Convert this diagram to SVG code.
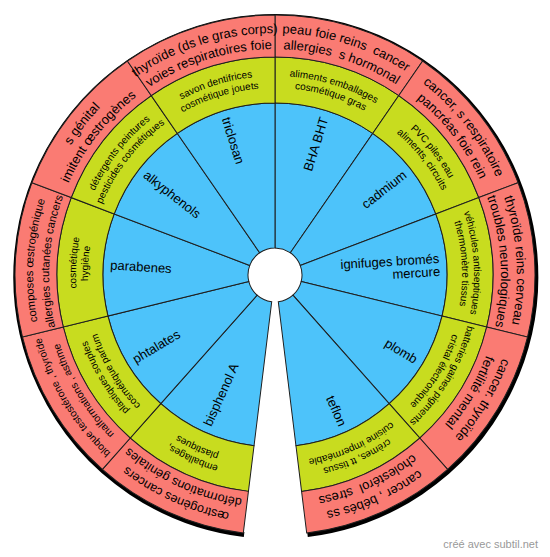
<svg xmlns="http://www.w3.org/2000/svg" width="550" height="557" viewBox="0 0 550 557">
<style>
.wb{fill:#4dc3fa;stroke:#1e1e1e;stroke-width:1}
.wg{fill:#c8dc1f;stroke:#1e1e1e;stroke-width:1}
.wr{fill:#fa7b73;stroke:#1e1e1e;stroke-width:1}
text{font-family:"Liberation Sans",Arial,sans-serif;fill:#000}
.lb{font-size:13px}
.lg{font-size:10px}
.lr{font-size:13px}
.credit{font-size:11px;fill:#999}
</style>
<defs>
<path id="wedgeBlue" class="wb" d="M275,248 L275,103 A172,172 0 0 1 372.67,133.42 L290.33,252.77 A27,27 0 0 0 275,248 Z"/>
<path id="wedgeGreen" class="wg" d="M275,103 L275,57 A218,218 0 0 1 398.79,95.55 L372.67,133.42 A172,172 0 0 0 275,103 Z"/>
<path id="wedgeRed" class="wr" d="M275,57 L275,15 A260,260 0 0 1 422.64,60.98 L398.79,95.55 A218,218 0 0 0 275,57 Z"/>
<path id="t242" d="M33,275 A242,242 0 0 1 517,275"/>
<path id="t226" d="M49,275 A226,226 0 0 1 501,275"/>
<path id="t199" d="M76,275 A199,199 0 0 1 474,275"/>
<path id="t187" d="M88,275 A187,187 0 0 1 462,275"/>
</defs>
<rect x="0" y="0" width="550" height="557" fill="#fff"/>
<path d="M243.31,533.06 A260,260 0 1 1 306.69,533.06" fill="none" stroke="#000" stroke-width="5" transform="translate(0.8,1.5)"/>

<g id="sector-bha-bht" transform="rotate(0 275 275)">
<use href="#wedgeBlue"/><use href="#wedgeGreen"/><use href="#wedgeRed"/>
<text class="lb" x="440" y="279.5" text-anchor="end" transform="rotate(-72.7 275 275)">BHA BHT</text>
<text class="lg" transform="rotate(17.3 275 275)"><textPath href="#t199" startOffset="50%" text-anchor="middle">aliments emballages</textPath></text>
<text class="lg" transform="rotate(17.3 275 275)"><textPath href="#t187" startOffset="50%" text-anchor="middle">cosmétique gras</textPath></text>
<text class="lr" xml:space="preserve" transform="rotate(17.3 275 275)"><textPath href="#t242" startOffset="50%" text-anchor="middle">peau foie reins  cancer</textPath></text>
<text class="lr" xml:space="preserve" transform="rotate(17.3 275 275)"><textPath href="#t226" startOffset="50%" text-anchor="middle">allergies  s hormonal</textPath></text>
</g>

<g id="sector-cadmium" transform="rotate(34.6 275 275)">
<use href="#wedgeBlue"/><use href="#wedgeGreen"/><use href="#wedgeRed"/>
<text class="lb" x="440" y="279.5" text-anchor="end" transform="rotate(-72.7 275 275)">cadmium</text>
<text class="lg" transform="rotate(17.3 275 275)"><textPath href="#t199" startOffset="50%" text-anchor="middle">PVC piles eau</textPath></text>
<text class="lg" transform="rotate(17.3 275 275)"><textPath href="#t187" startOffset="50%" text-anchor="middle">aliments, circuits</textPath></text>
<text class="lr" transform="rotate(17.3 275 275)"><textPath href="#t242" startOffset="50%" text-anchor="middle">cancer, s respiratoire</textPath></text>
<text class="lr" transform="rotate(17.3 275 275)"><textPath href="#t226" startOffset="50%" text-anchor="middle">pancréas foie rein</textPath></text>
</g>

<g id="sector-ignifuges" transform="rotate(69.2 275 275)">
<use href="#wedgeBlue"/><use href="#wedgeGreen"/><use href="#wedgeRed"/>
<text class="lb" text-anchor="end" transform="rotate(-72.7 275 275)"><tspan x="440" y="273">ignifuges bromés</tspan><tspan x="440" y="286">mercure</tspan></text>
<text class="lg" transform="rotate(17.3 275 275)"><textPath href="#t199" startOffset="50%" text-anchor="middle">véhicules antiseptiques</textPath></text>
<text class="lg" transform="rotate(17.3 275 275)"><textPath href="#t187" startOffset="50%" text-anchor="middle">thermomètre tissus</textPath></text>
<text class="lr" transform="rotate(17.3 275 275)"><textPath href="#t242" startOffset="50%" text-anchor="middle">thyroïde reins cerveau</textPath></text>
<text class="lr" transform="rotate(17.3 275 275)"><textPath href="#t226" startOffset="50%" text-anchor="middle">troubles neurologiques</textPath></text>
</g>

<g id="sector-plomb" transform="rotate(103.8 275 275)">
<use href="#wedgeBlue"/><use href="#wedgeGreen"/><use href="#wedgeRed"/>
<text class="lb" x="440" y="279.5" text-anchor="end" transform="rotate(-72.7 275 275)">plomb</text>
<text class="lg" transform="rotate(17.3 275 275)"><textPath href="#t199" startOffset="50%" text-anchor="middle">batteries gaines pigments</textPath></text>
<text class="lg" transform="rotate(17.3 275 275)"><textPath href="#t187" startOffset="50%" text-anchor="middle">cristal électronique</textPath></text>
<text class="lr" transform="rotate(17.3 275 275)"><textPath href="#t242" startOffset="50%" text-anchor="middle">cancer. thyroïde</textPath></text>
<text class="lr" transform="rotate(17.3 275 275)"><textPath href="#t226" startOffset="50%" text-anchor="middle">fertilité mental</textPath></text>
</g>

<g id="sector-teflon" transform="rotate(138.4 275 275)">
<use href="#wedgeBlue"/><use href="#wedgeGreen"/><use href="#wedgeRed"/>
<text class="lb" x="440" y="279.5" text-anchor="end" transform="rotate(-72.7 275 275)">teflon</text>
<text class="lg" transform="rotate(17.3 275 275)"><textPath href="#t199" startOffset="50%" text-anchor="middle">crèmes, tt tissus</textPath></text>
<text class="lg" transform="rotate(17.3 275 275)"><textPath href="#t187" startOffset="50%" text-anchor="middle">cuisine imperméable</textPath></text>
<text class="lr" transform="rotate(17.3 275 275)"><textPath href="#t242" startOffset="50%" text-anchor="middle">cancer , bébés ss</textPath></text>
<text class="lr" xml:space="preserve" transform="rotate(17.3 275 275)"><textPath href="#t226" startOffset="50%" text-anchor="middle">cholestérol  stress</textPath></text>
</g>

<g id="sector-bisphenol-a" transform="rotate(187 275 275)">
<use href="#wedgeBlue"/><use href="#wedgeGreen"/><use href="#wedgeRed"/>
<text class="lb" x="110" y="279.5" text-anchor="start" transform="rotate(107.3 275 275)">bisphenol A</text>
<text class="lg" transform="rotate(17.3 275 275)"><textPath href="#t199" startOffset="50%" text-anchor="middle">emballages,</textPath></text>
<text class="lg" transform="rotate(17.3 275 275)"><textPath href="#t187" startOffset="50%" text-anchor="middle">plastiques</textPath></text>
<text class="lr" style="font-size:12.5px" transform="rotate(17.3 275 275)"><textPath href="#t242" startOffset="50%" text-anchor="middle">œstrogènes cancers</textPath></text>
<text class="lr" style="font-size:12.5px" transform="rotate(17.3 275 275)"><textPath href="#t226" startOffset="50%" text-anchor="middle">déformations génitales</textPath></text>
</g>

<g id="sector-phtalates" transform="rotate(221.6 275 275)">
<use href="#wedgeBlue"/><use href="#wedgeGreen"/><use href="#wedgeRed"/>
<text class="lb" x="110" y="279.5" text-anchor="start" transform="rotate(107.3 275 275)">phtalates</text>
<text class="lg" transform="rotate(17.3 275 275)"><textPath href="#t199" startOffset="50%" text-anchor="middle">plastiques souples</textPath></text>
<text class="lg" transform="rotate(17.3 275 275)"><textPath href="#t187" startOffset="50%" text-anchor="middle">cosmétique parfum</textPath></text>
<text class="lr" style="font-size:10.3px" transform="rotate(17.3 275 275)"><textPath href="#t242" startOffset="50%" text-anchor="middle">bloque testostérone , thyroïde</textPath></text>
<text class="lr" style="font-size:10.3px" transform="rotate(17.3 275 275)"><textPath href="#t226" startOffset="50%" text-anchor="middle">malformations , asthme</textPath></text>
</g>

<g id="sector-parabenes" transform="rotate(256.2 275 275)">
<use href="#wedgeBlue"/><use href="#wedgeGreen"/><use href="#wedgeRed"/>
<text class="lb" x="110" y="279.5" text-anchor="start" transform="rotate(107.3 275 275)">parabenes</text>
<text class="lg" transform="rotate(17.3 275 275)"><textPath href="#t199" startOffset="50%" text-anchor="middle">cosmétique</textPath></text>
<text class="lg" transform="rotate(17.3 275 275)"><textPath href="#t187" startOffset="50%" text-anchor="middle">hygiène</textPath></text>
<text class="lr" style="font-size:11.2px" transform="rotate(17.3 275 275)"><textPath href="#t242" startOffset="50%" text-anchor="middle">composes œstrogénique</textPath></text>
<text class="lr" style="font-size:11.2px" transform="rotate(17.3 275 275)"><textPath href="#t226" startOffset="50%" text-anchor="middle">allergies cutanées cancers</textPath></text>
</g>

<g id="sector-alkyphenols" transform="rotate(290.8 275 275)">
<use href="#wedgeBlue"/><use href="#wedgeGreen"/><use href="#wedgeRed"/>
<text class="lb" x="110" y="279.5" text-anchor="start" transform="rotate(107.3 275 275)">alkyphenols</text>
<text class="lg" transform="rotate(17.3 275 275)"><textPath href="#t199" startOffset="50%" text-anchor="middle">détergents peintures</textPath></text>
<text class="lg" transform="rotate(17.3 275 275)"><textPath href="#t187" startOffset="50%" text-anchor="middle">pesticides cosmétiques</textPath></text>
<text class="lr" transform="rotate(17.3 275 275)"><textPath href="#t242" startOffset="50%" text-anchor="middle">s génital</textPath></text>
<text class="lr" transform="rotate(17.3 275 275)"><textPath href="#t226" startOffset="50%" text-anchor="middle">imitent œstrogènes</textPath></text>
</g>

<g id="sector-triclosan" transform="rotate(325.4 275 275)">
<use href="#wedgeBlue"/><use href="#wedgeGreen"/><use href="#wedgeRed"/>
<text class="lb" x="110" y="279.5" text-anchor="start" transform="rotate(107.3 275 275)">triclosan</text>
<text class="lg" transform="rotate(17.3 275 275)"><textPath href="#t199" startOffset="50%" text-anchor="middle">savon dentifrices</textPath></text>
<text class="lg" transform="rotate(17.3 275 275)"><textPath href="#t187" startOffset="50%" text-anchor="middle">cosmétique jouets</textPath></text>
<text class="lr" transform="rotate(17.3 275 275)"><textPath href="#t242" startOffset="50%" text-anchor="middle">thyroïde (ds le gras corps)</textPath></text>
<text class="lr" transform="rotate(17.3 275 275)"><textPath href="#t226" startOffset="50%" text-anchor="middle">voies respiratoires foie</textPath></text>
</g>

<g id="connectors"></g>
<text class="credit" x="538" y="548" text-anchor="end">créé avec subtil.net</text>
</svg>
